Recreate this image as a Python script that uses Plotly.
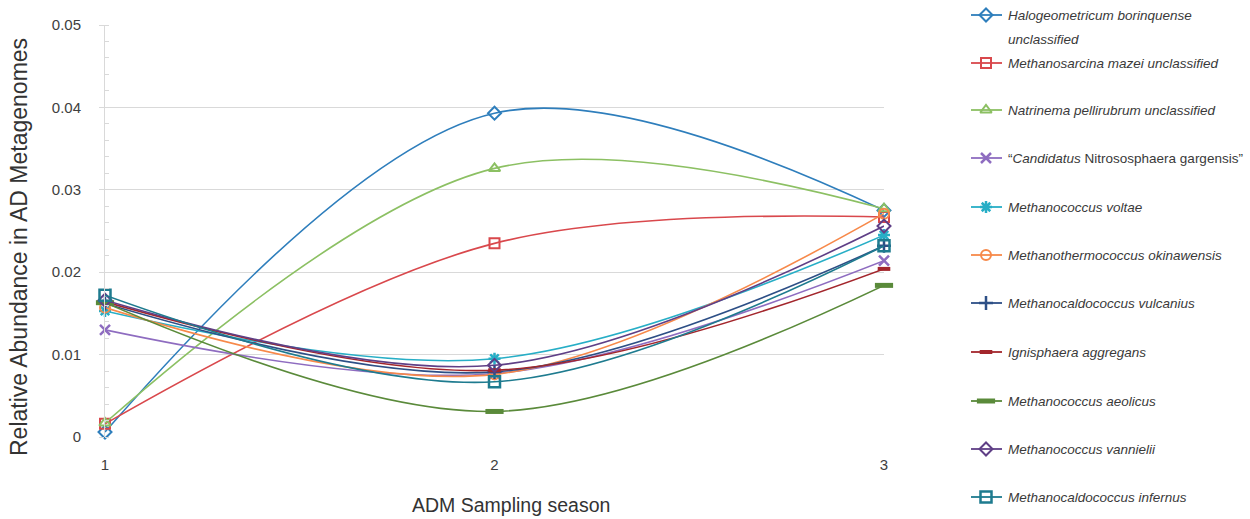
import plotly.graph_objects as go

# Sampling seasons (x) and relative abundance per taxon (y)
seasons = [1, 2, 3]

taxa = [
    "<i>Halogeometricum borinquense</i><br><i>unclassified</i>",
    "<i>Methanosarcina mazei unclassified</i>",
    "<i>Natrinema pellirubrum unclassified</i>",
    "\u201c<i>Candidatus</i> Nitrososphaera gargensis\u201d",
    "<i>Methanococcus voltae</i>",
    "<i>Methanothermococcus okinawensis</i>",
    "<i>Methanocaldococcus vulcanius</i>",
    "<i>Ignisphaera aggregans</i>",
    "<i>Methanococcus aeolicus</i>",
    "<i>Methanococcus vannielii</i>",
    "<i>Methanocaldococcus infernus</i>",
]

halogeometricum = [0.0006, 0.0393, 0.0275]
methanosarcina = [0.0016, 0.0235, 0.0267]
natrinema = [0.0017, 0.0326, 0.0277]
candidatus = [0.0130, 0.0077, 0.0214]
voltae = [0.0153, 0.0095, 0.0245]
okinawensis = [0.0157, 0.0076, 0.0271]
vulcanius = [0.0162, 0.0079, 0.0232]
ignisphaera = [0.0164, 0.0081, 0.0204]
aeolicus = [0.0163, 0.0031, 0.0184]
vannielii = [0.0166, 0.0087, 0.0256]
infernus = [0.0172, 0.0067, 0.0232]

series_values = [halogeometricum, methanosarcina, natrinema, candidatus, voltae,
                 okinawensis, vulcanius, ignisphaera, aeolicus, vannielii, infernus]

y_ticks = [0, 0.01, 0.02, 0.03, 0.04, 0.05]
y_tick_labels = ["0", "0.01", "0.02", "0.03", "0.04", "0.05"]

# Styling per taxon: colour, marker symbol, marker size, marker stroke
styles = [
    ("#2e7ebc", "diamond-open", 10, 2),
    ("#d9484c", "square-open", 10, 2),
    ("#8cc063", "triangle-up-open", 10, 2),
    ("#8e6cc0", "x-thin-open", 10, 2.5),
    ("#27aec6", "asterisk-open", 10, 2.5),
    ("#f7894a", "circle-open", 10, 2),
    ("#2d4f86", "cross-thin-open", 10, 2.5),
    ("#a3262c", "line-ew-open", 9, 4),
    ("#5a8a3a", "line-ew-open", 13, 5),
    ("#5f3f86", "diamond-open", 10, 2),
    ("#1e7b8f", "square-open", 11, 2.5),
]

W, H = 1250, 519
plot_left, plot_right, plot_top, plot_bottom = 105, 884, 25, 437
FONT = "Liberation Sans, Arial, sans-serif"

fig = go.Figure()

for name, vals, (color, sym, size, lw) in zip(taxa, series_values, styles):
    fig.add_trace(go.Scatter(
        x=seasons, y=vals, name=name, mode="lines+markers",
        line=dict(color=color, width=1.6, shape="spline", smoothing=1),
        marker=dict(symbol=sym, size=size, color=color,
                    line=dict(color=color, width=lw)),
        cliponaxis=False, showlegend=False,
    ))

# Key: sample line + marker for each taxon, on a pixel-scaled helper axis
legend_y = [15, 63, 110, 158, 207, 255, 303, 352, 401, 449, 497]
key_x0, key_xm, key_x1, text_x = 971, 986, 1002, 1006
for name, yk, (color, sym, size, lw) in zip(taxa, legend_y, styles):
    fig.add_trace(go.Scatter(
        x=[key_x0, key_x1], y=[yk, yk], mode="lines", xaxis="x2", yaxis="y2",
        line=dict(color=color, width=1.8), showlegend=False, hoverinfo="skip",
        cliponaxis=False,
    ))
    fig.add_trace(go.Scatter(
        x=[key_xm], y=[yk], mode="markers", xaxis="x2", yaxis="y2",
        marker=dict(symbol=sym, size=size, color=color,
                    line=dict(color=color, width=lw)),
        showlegend=False, hoverinfo="skip", cliponaxis=False,
    ))
    for i, ln in enumerate(name.split("<br>")):
        fig.add_annotation(
            x=text_x, y=yk + i * 24, xref="x2", yref="y2", text=ln,
            showarrow=False, xanchor="left", yanchor="middle",
            font=dict(size=13.5, color="#3a3a3a", family=FONT),
        )

# Axis titles
fig.add_annotation(
    x=511 / W, y=1 - 505 / H, xref="paper", yref="paper",
    text="ADM Sampling season", showarrow=False,
    font=dict(size=19.5, color="#333333", family=FONT), xanchor="center", yanchor="middle",
)
fig.add_annotation(
    x=19 / W, y=1 - 247 / H, xref="paper", yref="paper",
    text="Relative Abundance in AD Metagenomes", showarrow=False, textangle=-90,
    font=dict(size=23, color="#333333", family=FONT), xanchor="center", yanchor="middle",
)

fig.update_layout(
    width=W, height=H,
    margin=dict(l=0, r=0, t=0, b=0),
    paper_bgcolor="white", plot_bgcolor="white",
    font=dict(family=FONT, color="#404040"),
    xaxis=dict(
        domain=[plot_left / W, plot_right / W], range=[1, 3],
        tickvals=seasons, ticktext=[str(s) for s in seasons],
        showgrid=False, zeroline=False, showline=False, ticks="",
        tickfont=dict(size=15, color="#404040"), ticklabelstandoff=17,
        automargin=False,
    ),
    yaxis=dict(
        domain=[1 - plot_bottom / H, 1 - plot_top / H], range=[0, 0.05],
        tickvals=y_ticks, ticktext=y_tick_labels,
        showgrid=True, gridcolor="#d9d9d9", gridwidth=1,
        zeroline=False, showline=True, linecolor="#d9d9d9", linewidth=1,
        ticks="outside", ticklen=5, tickcolor="#d9d9d9",
        minor=dict(dtick=0.002, ticks="inside", ticklen=4, tickcolor="#d9d9d9", showgrid=False),
        tickfont=dict(size=15, color="#404040"), ticklabelstandoff=15,
        automargin=False,
    ),
    xaxis2=dict(domain=[960 / W, 1], range=[960, 1250], visible=False, fixedrange=True),
    yaxis2=dict(domain=[0, 1], range=[H, 0], visible=False, anchor="x2", fixedrange=True),
    showlegend=False,
)

fig.write_html("out.html")
